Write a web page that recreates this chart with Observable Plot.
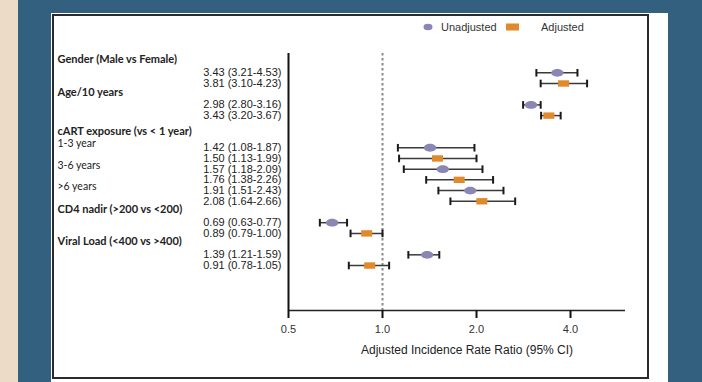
<!DOCTYPE html>
<html><head><meta charset="utf-8">
<script src="https://cdn.jsdelivr.net/npm/d3@7"></script>
<script src="https://cdn.jsdelivr.net/npm/@observablehq/plot@0.6"></script>
<style>
html,body{margin:0;padding:0;width:702px;height:382px;overflow:hidden;background:#33607e;}
#beige{position:absolute;left:0;top:0;width:18px;height:382px;background:#ecdcc7;}
#panel{position:absolute;left:51px;top:13px;width:617px;height:369px;background:#fff;}
#border{position:absolute;left:52px;top:14px;width:593px;height:361px;border:2px solid #2b2b2b;}
#chart{position:absolute;left:0;top:0;}
.lg{position:absolute;top:20px;font:11px "Liberation Sans",Arial,sans-serif;color:#333;line-height:14px;}
#lgsym{position:absolute;left:0;top:0;}
</style></head>
<body>
<div id="beige"></div>
<div id="panel"></div>
<div id="border"></div>
<div id="chart"></div>
<svg id="lgsym" width="702" height="40">
  <ellipse cx="428" cy="27" rx="4.5" ry="3.2" fill="#8b87b5"></ellipse>
  <rect x="506" y="23.5" width="13" height="7" fill="#e08a2b"></rect>
</svg>
<div class="lg" style="left:441px">Unadjusted</div>
<div class="lg" style="left:541px">Adjusted</div>
<script>
const rowLabels = ["Gender (Male vs Female)", "Age/10 years", "1-3 year", "3-6 years", ">6 years", "CD4 nadir (>200 vs <200)", "Viral Load (<400 vs >400)"];
const rowBold = [true, true, false, false, false, true, true];
const groupHeader = "cART exposure (vs < 1 year)";
const unadjEst = [3.63, 2.99, 1.42, 1.56, 1.91, 0.69, 1.39];
const unadjLo  = [3.11, 2.82, 1.12, 1.17, 1.51, 0.63, 1.21];
const unadjHi  = [4.21, 3.21, 1.97, 2.09, 2.44, 0.77, 1.52];
const adjEst   = [3.80, 3.41, 1.50, 1.76, 2.08, 0.89, 0.91];
const adjLo    = [3.21, 3.22, 1.13, 1.38, 1.65, 0.79, 0.78];
const adjHi    = [4.52, 3.72, 2.00, 2.26, 2.66, 1.00, 1.05];
const unadjText = ["3.43 (3.21-4.53)", "2.98 (2.80-3.16)", "1.42 (1.08-1.87)", "1.57 (1.18-2.09)", "1.91 (1.51-2.43)", "0.69 (0.63-0.77)", "1.39 (1.21-1.59)"];
const adjText   = ["3.81 (3.10-4.23)", "3.43 (3.20-3.67)", "1.50 (1.13-1.99)", "1.76 (1.38-2.26)", "2.08 (1.64-2.66)", "0.89 (0.79-1.00)", "0.91 (0.78-1.05)"];
const xTicks = [0.5, 1, 2, 4];
const xDomain = [0.5, 6];
const xLabel = "Adjusted Incidence Rate Ratio (95% CI)";

// layout: blank rows before each factor
const gapBefore = [0, 1, 2, 0, 0, 1, 1];
const obs = [], labels = [];
let pos = 0;
rowLabels.forEach((name, i) => {
  pos += gapBefore[i];
  obs.push({type: "U", row: pos, est: unadjEst[i], lo: unadjLo[i], hi: unadjHi[i], text: unadjText[i]});
  obs.push({type: "A", row: pos + 1, est: adjEst[i], lo: adjLo[i], hi: adjHi[i], text: adjText[i]});
  if (i === 2) labels.push({y: pos - 1.5, text: groupHeader, bold: true});
  labels.push({y: rowBold[i] ? pos - 1.2 : pos - 0.35, text: name, bold: rowBold[i]});
  pos += 2;
});
const yDomain = [-1.8, pos + 3.2];

const k = 0.5523;
const ellipseSym = {draw(ctx) {
  const rx = 6.2, ry = 3.9;
  ctx.moveTo(rx, 0);
  ctx.bezierCurveTo(rx, ry * k, rx * k, ry, 0, ry);
  ctx.bezierCurveTo(-rx * k, ry, -rx, ry * k, -rx, 0);
  ctx.bezierCurveTo(-rx, -ry * k, -rx * k, -ry, 0, -ry);
  ctx.bezierCurveTo(rx * k, -ry, rx, -ry * k, rx, 0);
  ctx.closePath();
}};
const rectSym = {draw(ctx) { ctx.rect(-5.5, -3.2, 11, 6.4); }};
const capSym = {draw(ctx) { ctx.moveTo(0, -3.8); ctx.lineTo(0, 3.8); }};

const font = '"Liberation Sans", Arial, sans-serif';
const lfont = 'Lato, "Open Sans", sans-serif';

const chart = Plot.plot({
  width: 702, height: 382,
  marginLeft: 288, marginRight: 77, marginTop: 53, marginBottom: 72,
  style: {background: "transparent", fontFamily: font},
  x: {type: "log", domain: xDomain},
  y: {domain: yDomain, reverse: true, axis: null},
  marks: [
    Plot.ruleX([1], {stroke: "#8a8a8a", strokeWidth: 2, strokeDasharray: "2.5,2.5"}),
    Plot.ruleX([xDomain[0]], {stroke: "#111", strokeWidth: 2}),
    Plot.ruleY([yDomain[1]], {x1: xDomain[0], x2: xDomain[1], stroke: "#222", strokeWidth: 1.5}),
    Plot.axisX({ticks: xTicks, tickFormat: d3.format(".1f"), tickSize: 8, tickPadding: 7, strokeWidth: 2, stroke: "#111", fontSize: 11, fill: "#333", label: null}),
    Plot.ruleY(obs, {y: "row", x1: "lo", x2: "hi", stroke: "#3a3a3a", strokeWidth: 1.5}),
    Plot.dot(obs, {x: "lo", y: "row", symbol: capSym, fill: "none", stroke: "#1a1a1a", strokeWidth: 2}),
    Plot.dot(obs, {x: "hi", y: "row", symbol: capSym, fill: "none", stroke: "#1a1a1a", strokeWidth: 2}),
    Plot.dot(obs.filter(d => d.type === "U"), {x: "est", y: "row", symbol: ellipseSym, fill: "#8b87b5", stroke: "none"}),
    Plot.dot(obs.filter(d => d.type === "A"), {x: "est", y: "row", symbol: rectSym, fill: "#e08a2b", stroke: "none"}),
    Plot.text(obs, {y: "row", text: "text", frameAnchor: "left", textAnchor: "end", dx: -7, fontSize: 11, fill: "#222", fontFamily: font}),
    Plot.text(labels.filter(d => d.bold), {y: "y", text: "text", frameAnchor: "left", textAnchor: "start", dx: -231, fontSize: 11, fontWeight: "bold", fill: "#222", fontFamily: lfont}),
    Plot.text(labels.filter(d => !d.bold), {y: "y", text: "text", frameAnchor: "left", textAnchor: "start", dx: -231, fontSize: 10.5, fill: "#222", fontFamily: lfont}),
    Plot.text([xLabel], {frameAnchor: "bottom", dx: 10, dy: 43, fontSize: 12, fill: "#222", fontFamily: font})
  ]
});
document.getElementById("chart").appendChild(chart);
</script>
</body></html>
